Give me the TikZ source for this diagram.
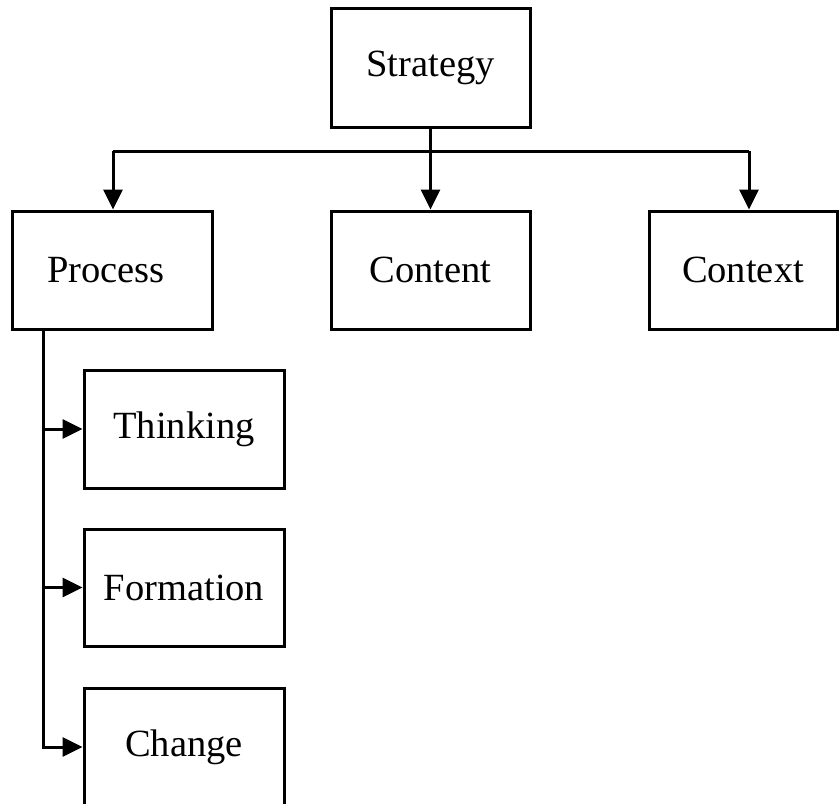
\documentclass[tikz,border=0pt]{standalone}
\usepackage{fontspec}
\setmainfont{Liberation Serif}
\usetikzlibrary{arrows.meta}
\begin{document}
\begin{tikzpicture}[x=1pt,y=-1pt,
  box/.style={draw,line width=3pt,rectangle,inner sep=0pt,font=\fontsize{38.5}{42}\selectfont},
  con/.style={line width=3pt},
  arr/.style={line width=3pt,-{Triangle[length=20pt,width=19pt]}}]
\useasboundingbox (0,0) rectangle (839,804);
\clip (0,0) rectangle (839,804);
\node[box,minimum width=199pt,minimum height=119pt] (strat) at (430.5,67.5) {Strategy};
\node[box,minimum width=200pt,minimum height=118pt] (process) at (112,270) {\hspace*{-12pt}Process};
\node[box,minimum width=199pt,minimum height=118pt] (content) at (430.5,270) {Content};
\node[box,minimum width=188pt,minimum height=118pt] (context) at (743,270) {Context};
\node[box,minimum width=200pt,minimum height=118pt] (thinking) at (184,429) {Thinking};
\node[box,minimum width=200pt,minimum height=117pt] (formation) at (184,587.5) {Formation};
\node[box,minimum width=200pt,minimum height=118pt] (change) at (184,747) {Change};
\coordinate (hl) at (113,151);
\coordinate (hr) at (749,151);
\coordinate (vt) at (43,329);
\draw[con] (hl) -- (hr);
\draw[arr] (strat.south) -- (content.north);
\draw[arr] (hl) -- (hl |- process.north);
\draw[arr] (hr) -- (hr |- context.north);
\draw[arr] (vt) |- (change.west);
\draw[arr] (vt |- thinking.west) -- (thinking.west);
\draw[arr] (vt |- formation.west) -- (formation.west);
\end{tikzpicture}
\end{document}
